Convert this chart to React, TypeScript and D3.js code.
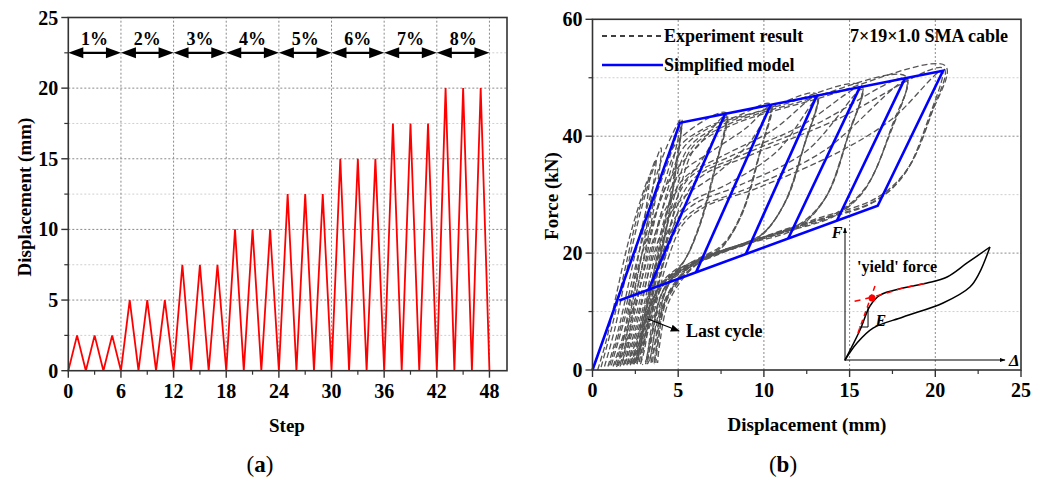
import React from "react";
import * as d3 from "d3";

// ---------- Data: panel (a) ----------
const leftDisp = [0,2.5,0,2.5,0,2.5,0,5,0,5,0,5,0,7.5,0,7.5,0,7.5,0,10,0,10,0,10,0,12.5,0,12.5,0,12.5,0,15,0,15,0,15,0,17.5,0,17.5,0,17.5,0,20,0,20,0,20,0];
const driftLabels = ["1%","2%","3%","4%","5%","6%","7%","8%"];
const driftBounds = [0,6,12,18,24,30,36,42,48];
const driftArrowY = 22.5;
const leftXTicks = [0,6,12,18,24,30,36,42,48];
const leftXMinor = [3,9,15,21,27,33,39,45];
const leftYTicks = [0,5,10,15,20,25];
const leftYMinor = [2.5,7.5,12.5,17.5,22.5];

// ---------- Data: panel (b) ----------
const rightXTicks = [0,5,10,15,20,25];
const rightXMinor = [2.5,7.5,12.5,17.5,22.5];
const rightYTicks = [0,20,40,60];
const rightYMinor = [10,30,50];

// experimental hysteresis loops (displacement mm, force kN), 3 cycles per drift level
const expLoops: [number, number][][] = [
  // 1%
  [[0.3,0],[0.8,5],[1.4,13],[2.1,22],[2.8,29],[3.3,33],[3.0,25],[2.4,15],[1.9,7],[1.6,2],[1.4,0.5]],
  [[0.5,0.5],[1.1,7],[1.8,16],[2.5,25],[3.2,32],[3.7,36],[3.3,27],[2.7,17],[2.1,8],[1.8,2],[1.6,0.6]],
  [[0.7,0.6],[1.3,7],[2.0,17],[2.8,27],[3.5,34],[4.0,38],[3.6,28],[2.9,18],[2.3,9],[2.0,2.5],[1.8,0.7]],
  // 2%
  [[0.9,0.6],[1.6,8],[2.5,20],[3.4,30],[4.3,38],[5.2,43],[4.9,36],[4.3,26],[3.6,17],[2.9,9],[2.4,2.5],[2.1,0.8]],
  [[1.0,0.8],[1.8,9],[2.7,20],[3.6,29],[4.4,35.5],[5.2,42.5],[4.8,33],[4.2,23],[3.6,15.5],[3.0,9],[2.6,3],[2.3,1]],
  [[1.1,0.8],[1.9,9],[2.8,19],[3.7,27],[4.5,33.5],[5.2,42],[4.7,31],[4.1,21],[3.5,14.5],[3.0,8],[2.7,2.5],[2.4,1]],
  // 3%
  [[1.2,0.6],[2.0,8],[2.9,20],[3.8,31],[4.7,38],[5.8,41.3],[7.8,44],[7.2,35],[6.3,25],[5.3,18.5],[4.2,15.5],[3.4,11.5],[2.8,5.5],[2.5,1]],
  [[1.3,0.8],[2.2,9],[3.1,20],[3.9,28.5],[4.7,33.5],[6.2,38.5],[7.8,43.6],[7.1,34],[6.2,24.5],[5.2,18],[4.1,15],[3.3,10.5],[2.8,4.5],[2.6,1]],
  [[1.4,0.8],[2.3,9],[3.2,19],[4.0,26],[4.9,30.5],[6.4,36],[7.8,43.3],[7.0,33],[6.1,23.5],[5.1,17.5],[4.0,14.5],[3.3,10],[2.8,4],[2.6,1]],
  // 4%
  [[1.5,0.7],[2.3,8],[3.2,20],[4.1,31],[5.0,38],[6.5,41.3],[8.5,43.5],[10.4,45.5],[9.8,37.5],[8.8,27.5],[7.6,21.5],[6.0,18.8],[4.5,16],[3.5,11],[3.0,5],[2.7,1]],
  [[1.6,0.9],[2.5,9],[3.4,20],[4.2,28.5],[5.1,33.5],[7.0,37.5],[9,41.5],[10.4,45.2],[9.7,36.5],[8.7,26.5],[7.5,21],[5.8,18.3],[4.3,15.3],[3.4,10],[3.0,4],[2.8,1]],
  [[1.7,0.9],[2.6,9],[3.5,19],[4.3,25.5],[5.3,29.5],[7.2,33.5],[9.2,39],[10.4,44.8],[9.6,35.5],[8.6,26],[7.4,20.5],[5.7,17.8],[4.2,14.8],[3.4,9],[3.0,3],[2.8,1]],
  // 5%
  [[1.8,0.8],[2.6,8],[3.5,20],[4.4,31],[5.3,38],[7,41.7],[10,44.5],[13.1,47.2],[12.4,39],[11.3,29],[9.9,23.3],[8,20.8],[6,18.5],[4.4,15],[3.5,8],[3.1,1.5],[2.9,0.9]],
  [[1.9,1],[2.8,9],[3.7,20],[4.5,28.5],[5.4,33],[7.5,36.5],[10.5,41],[13.1,46.8],[12.3,38],[11.2,28.5],[9.8,23],[7.8,20.5],[5.8,18],[4.3,14.5],[3.5,7],[3.1,1]],
  [[2.0,1],[2.9,9],[3.8,19],[4.6,25],[5.6,28.5],[8,32],[10.8,37.5],[13.1,46.4],[12.2,37],[11.1,28],[9.7,22.6],[7.7,20.2],[5.7,17.6],[4.2,14],[3.5,6.5],[3.2,1]],
  // 6%
  [[2.0,0.8],[2.9,8],[3.8,20],[4.7,31],[5.6,38],[7.3,41.6],[11,45.3],[15.7,48.7],[15.0,41],[13.7,30],[12.1,25],[9.5,22.3],[7,19.8],[4.9,16.8],[3.8,10],[3.3,3],[3.1,1]],
  [[2.1,1],[3.0,9],[3.9,20],[4.8,28.5],[5.7,33],[8,36.5],[12,41.5],[15.7,48.3],[14.9,40],[13.6,29.5],[12.0,24.6],[9.3,22],[6.8,19.4],[4.8,16.2],[3.8,9],[3.4,2.5],[3.2,1]],
  [[2.2,1],[3.1,9],[4.0,19],[4.9,25.5],[6.0,28.5],[8.5,31.5],[12.5,37.5],[15.7,48],[14.8,39],[13.5,29],[11.9,24.2],[9.1,21.6],[6.6,19],[4.7,15.8],[3.8,8.5],[3.4,2.5],[3.3,1]],
  // 7%
  [[2.2,0.8],[3.1,8],[4.0,20],[4.9,31],[5.8,38],[7.6,41.6],[12,45.8],[18.3,50.2],[17.5,42],[16.0,31.5],[14.3,27],[11.5,24.2],[8.5,21.3],[6,18.6],[4.3,12.5],[3.6,4],[3.4,1]],
  [[2.3,1],[3.2,9],[4.1,20],[5.0,28.5],[6.0,33],[8.5,36.5],[13,42],[18.3,49.8],[17.4,41],[15.9,31],[14.2,26.6],[11.3,23.8],[8.3,21],[5.9,18.2],[4.3,12],[3.6,3.5],[3.5,1]],
  [[2.4,1],[3.3,9],[4.2,19],[5.1,25],[6.3,28],[9,31],[13.5,37.5],[18.3,49.4],[17.3,40],[15.8,30.5],[14.1,26.3],[11.1,23.5],[8.1,20.7],[5.8,17.9],[4.2,11.5],[3.7,3.5],[3.6,1]],
  // 8%
  [[2.4,1],[3.3,8],[4.2,20],[5.1,31],[6.0,38],[7.9,41.6],[13,46.3],[20.6,52],[19.8,44],[18.4,34.5],[16.6,29.5],[13,25.8],[9.5,22.3],[6.5,19],[4.4,12.8],[3.8,4.5],[3.6,1]],
  [[2.5,1.2],[3.4,9],[4.3,20],[5.2,28.5],[6.3,33],[9,36.5],[14,42.5],[20.5,51.6],[19.7,43.5],[18.3,34],[16.5,29],[12.8,25.4],[9.3,22],[6.3,18.6],[4.4,12.3],[3.8,4],[3.7,1.2]],
  [[2.6,1.2],[3.5,9],[4.4,19],[5.3,25],[6.6,28],[9.5,31],[14.5,37.5],[17.5,43],[20.4,51.2],[19.6,43],[18.2,33.5],[16.4,28.7],[12.6,25.1],[9.1,21.7],[6.2,18.3],[4.5,12],[3.9,4],[3.8,1.2]],
];

const modelOuter: [number, number][] = [[0,0],[5.1,42.3],[20.45,51.2],[16.64,28.1],[1.56,11.9]];
const modelUnload: [number, number][][] = [
  [[7.73,43.8],[3.26,13.7]],
  [[10.4,45.4],[6.04,16.7]],
  [[13.08,46.9],[8.94,19.8]],
  [[15.6,48.4],[11.42,22.5]],
  [[18.23,49.9],[14.25,25.5]],
];

// inset (schematic, local units 0..10)
const insetUpper: [number, number][] = [[0,0],[0.94,2.27],[1.56,4.09],[2.19,4.92],[3.63,5.45],[5.13,5.83],[6.38,6.29],[7.63,7.35],[9.06,8.56]];
const insetLower: [number, number][] = [[9.06,8.56],[8.4,6.6],[7.81,5.53],[6.13,4.32],[3.63,3.26],[1.75,2.42],[0.75,1.29],[0,0]];
const insetRedTangent: [number, number][] = [[0.81,2.05],[1.94,5.83]];
const insetRedYield: [number, number][] = [[0.6,4.45],[2.19,4.92],[3.63,5.45],[5.13,5.83]];
const insetYieldPoint: [number, number] = [1.69,4.7];
const insetTriangle: [number, number][] = [[1.44,4.02],[1.44,2.5],[0.88,2.5]];

const FONT = "'Liberation Serif', 'Times New Roman', serif";

export default function App() {
  const xa = d3.scaleLinear().domain([0, 50]).range([68.3, 507]);
  const ya = d3.scaleLinear().domain([0, 25]).range([370.7, 17.5]);
  const xb = d3.scaleLinear().domain([0, 25]).range([592.5, 1021]);
  const yb = d3.scaleLinear().domain([0, 60]).range([370, 19.3]);
  const xi = d3.scaleLinear().domain([0, 10]).range([845, 1005]);
  const yi = d3.scaleLinear().domain([0, 10]).range([360, 228]);

  const lineA = d3.line<number>().x((_, i) => xa(i)).y((d) => ya(d));
  const lineB = d3.line<[number, number]>().x((d) => xb(d[0])).y((d) => yb(d[1]));
  const lineBSmooth = d3.line<[number, number]>().x((d) => xb(d[0])).y((d) => yb(d[1])).curve(d3.curveCatmullRom.alpha(0.5));
  const lineI = d3.line<[number, number]>().x((d) => xi(d[0])).y((d) => yi(d[1])).curve(d3.curveCatmullRom.alpha(0.5));
  const lineIStraight = d3.line<[number, number]>().x((d) => xi(d[0])).y((d) => yi(d[1]));

  const major = { stroke: "#8a8a8a", strokeWidth: 1, strokeDasharray: "2,2" };
  const minor = { stroke: "#cfcfcf", strokeWidth: 1, strokeDasharray: "2,2" };
  const axisColor = "#333";

  const arrowHead = (x: number, y: number, dir: number) => {
    const L = 15, H = 5.5;
    return `M${x},${y} L${x - dir * L},${y - H} L${x - dir * L},${y + H} Z`;
  };

  return (
    <svg width={1051} height={479} style={{ position: "absolute", left: 0, top: 0, background: "#fff" }} fontFamily={FONT}>
      <defs>
        <marker id="ah" viewBox="0 0 10 10" refX="9" refY="5" markerWidth="7" markerHeight="7" orient="auto">
          <path d="M0,1 L10,5 L0,9 Z" fill="#000" />
        </marker>
        <marker id="ahs" viewBox="0 0 10 10" refX="9" refY="5" markerWidth="6" markerHeight="6" orient="auto">
          <path d="M0,1.5 L10,5 L0,8.5 Z" fill="#000" />
        </marker>
      </defs>

      {/* ================= Panel (a) ================= */}
      <g>
        {leftYMinor.map((v) => (
          <line key={"amy" + v} x1={xa(0)} x2={xa(50)} y1={ya(v)} y2={ya(v)} {...minor} />
        ))}
        {leftYTicks.filter((v) => v > 0 && v < 25).map((v) => (
          <line key={"agy" + v} x1={xa(0)} x2={xa(50)} y1={ya(v)} y2={ya(v)} {...major} />
        ))}
        {leftXTicks.filter((v) => v > 0).map((v) => (
          <line key={"agx" + v} x1={xa(v)} x2={xa(v)} y1={ya(0)} y2={ya(25)} {...major} />
        ))}

        <path d={lineA(leftDisp) || ""} fill="none" stroke="#ff0000" strokeWidth={1.8} strokeLinejoin="miter" />

        {driftLabels.map((lab, i) => {
          const x0 = xa(driftBounds[i]);
          const x1 = xa(driftBounds[i + 1]);
          const y = ya(driftArrowY);
          return (
            <g key={"dr" + i}>
              <line x1={x0 + 8} x2={x1 - 8} y1={y} y2={y} stroke="#000" strokeWidth={2.2} />
              <path d={arrowHead(x0, y, -1)} fill="#000" />
              <path d={arrowHead(x1, y, 1)} fill="#000" />
              <text x={(x0 + x1) / 2} y={y - 8} textAnchor="middle" fontSize={18} fontWeight="bold">{lab}</text>
            </g>
          );
        })}

        <rect x={xa(0)} y={ya(25)} width={xa(50) - xa(0)} height={ya(0) - ya(25)} fill="none" stroke={axisColor} strokeWidth={1.6} />
        {leftXTicks.map((v) => (
          <g key={"axt" + v}>
            <line x1={xa(v)} x2={xa(v)} y1={ya(0)} y2={ya(0) + 7} stroke={axisColor} strokeWidth={1.4} />
            <text x={xa(v)} y={ya(0) + 27} textAnchor="middle" fontSize={20} fontWeight="bold">{v}</text>
          </g>
        ))}
        {leftXMinor.map((v) => (
          <line key={"axm" + v} x1={xa(v)} x2={xa(v)} y1={ya(0)} y2={ya(0) + 4} stroke={axisColor} strokeWidth={1.2} />
        ))}
        {leftYTicks.map((v) => (
          <g key={"ayt" + v}>
            <line x1={xa(0) - 7} x2={xa(0)} y1={ya(v)} y2={ya(v)} stroke={axisColor} strokeWidth={1.4} />
            <text x={xa(0) - 10} y={ya(v) + 7} textAnchor="end" fontSize={20} fontWeight="bold">{v}</text>
          </g>
        ))}
        {leftYMinor.map((v) => (
          <line key={"aym" + v} x1={xa(0) - 4} x2={xa(0)} y1={ya(v)} y2={ya(v)} stroke={axisColor} strokeWidth={1.2} />
        ))}
        <text x={287} y={432} textAnchor="middle" fontSize={19} fontWeight="bold">Step</text>
        <text transform={`translate(31,197) rotate(-90)`} textAnchor="middle" fontSize={19} fontWeight="bold">Displacement (mm)</text>
        <text x={260} y={472} textAnchor="middle" fontSize={23}>(<tspan fontWeight="bold">a</tspan>)</text>
      </g>

      {/* ================= Panel (b) ================= */}
      <g>
        {rightYMinor.map((v) => (
          <line key={"bmy" + v} x1={xb(0)} x2={xb(25)} y1={yb(v)} y2={yb(v)} {...minor} />
        ))}
        {rightYTicks.filter((v) => v > 0 && v < 60).map((v) => (
          <line key={"bgy" + v} x1={xb(0)} x2={xb(25)} y1={yb(v)} y2={yb(v)} {...major} />
        ))}
        {rightXTicks.filter((v) => v > 0 && v < 25).map((v) => (
          <line key={"bgx" + v} x1={xb(v)} x2={xb(v)} y1={yb(0)} y2={yb(60)} {...major} />
        ))}

        {expLoops.map((lp, i) => (
          <path key={"ex" + i} d={lineBSmooth(lp) || ""} fill="none" stroke="#555" strokeWidth={1.3} strokeDasharray="6,3" />
        ))}

        <path d={lineB(modelOuter) || ""} fill="none" stroke="#0000ff" strokeWidth={2.6} strokeLinejoin="miter" />
        {modelUnload.map((seg, i) => (
          <path key={"mu" + i} d={lineB(seg) || ""} fill="none" stroke="#0000ff" strokeWidth={2.6} />
        ))}

        {/* inset */}
        <line x1={xi(0)} x2={xi(0)} y1={yi(0) + 1} y2={yi(10)} stroke="#000" strokeWidth={1} markerEnd="url(#ahs)" />
        <line x1={xi(0)} x2={xi(10)} y1={yi(0)} y2={yi(0)} stroke="#000" strokeWidth={1} markerEnd="url(#ahs)" />
        <text x={xi(0) - 8} y={yi(10) + 10} fontSize={16} fontWeight="bold" fontStyle="italic" textAnchor="middle">F</text>
        <text x={xi(10) + 4} y={yi(0) + 6} fontSize={17} fontWeight="bold" fontStyle="italic">Δ</text>
        <path d={lineI(insetUpper) || ""} fill="none" stroke="#000" strokeWidth={1.5} />
        <path d={lineI(insetLower) || ""} fill="none" stroke="#000" strokeWidth={1.5} />
        <path d={lineIStraight(insetRedTangent) || ""} fill="none" stroke="#ff0000" strokeWidth={1.5} strokeDasharray="5,4" />
        <path d={lineI(insetRedYield) || ""} fill="none" stroke="#ff0000" strokeWidth={1.5} strokeDasharray="6,5" />
        <circle cx={xi(insetYieldPoint[0])} cy={yi(insetYieldPoint[1])} r={3.5} fill="#ff0000" />
        <path d={(lineIStraight(insetTriangle) || "")} fill="none" stroke="#000" strokeWidth={1} />
        <text x={xi(1.9)} y={yi(2.55)} fontSize={16} fontWeight="bold" fontStyle="italic">E</text>
        <text x={857} y={272} fontSize={16} fontWeight="bold">'yield' force</text>

        <line x1={648} y1={319} x2={679} y2={331} stroke="#000" strokeWidth={1.3} markerEnd="url(#ah)" />
        <text x={686} y={337} fontSize={18} fontWeight="bold">Last cycle</text>

        {/* legend */}
        <line x1={602} x2={663} y1={36} y2={36} stroke="#000" strokeWidth={1.3} strokeDasharray="5,4" />
        <text x={664} y={42} fontSize={18} fontWeight="bold">Experiment result</text>
        <line x1={602} x2={663} y1={65} y2={65} stroke="#0000ff" strokeWidth={2.6} />
        <text x={664} y={71} fontSize={18} fontWeight="bold">Simplified model</text>
        <text x={850} y={42} fontSize={18} fontWeight="bold">7×19×1.0 SMA cable</text>

        <rect x={xb(0)} y={yb(60)} width={xb(25) - xb(0)} height={yb(0) - yb(60)} fill="none" stroke={axisColor} strokeWidth={1.6} />
        {rightXTicks.map((v) => (
          <g key={"bxt" + v}>
            <line x1={xb(v)} x2={xb(v)} y1={yb(0)} y2={yb(0) + 7} stroke={axisColor} strokeWidth={1.4} />
            <text x={xb(v)} y={yb(0) + 27} textAnchor="middle" fontSize={20} fontWeight="bold">{v}</text>
          </g>
        ))}
        {rightXMinor.map((v) => (
          <line key={"bxm" + v} x1={xb(v)} x2={xb(v)} y1={yb(0)} y2={yb(0) + 4} stroke={axisColor} strokeWidth={1.2} />
        ))}
        {rightYTicks.map((v) => (
          <g key={"byt" + v}>
            <line x1={xb(0) - 7} x2={xb(0)} y1={yb(v)} y2={yb(v)} stroke={axisColor} strokeWidth={1.4} />
            <text x={xb(0) - 10} y={yb(v) + 7} textAnchor="end" fontSize={20} fontWeight="bold">{v}</text>
          </g>
        ))}
        {rightYMinor.map((v) => (
          <line key={"bym" + v} x1={xb(0) - 4} x2={xb(0)} y1={yb(v)} y2={yb(v)} stroke={axisColor} strokeWidth={1.2} />
        ))}
        <text x={807} y={431} textAnchor="middle" fontSize={19} fontWeight="bold">Displacement (mm)</text>
        <text transform={`translate(558,196) rotate(-90)`} textAnchor="middle" fontSize={19} fontWeight="bold">Force (kN)</text>
        <text x={783} y={472} textAnchor="middle" fontSize={23}>(<tspan fontWeight="bold">b</tspan>)</text>
      </g>
    </svg>
  );
}
